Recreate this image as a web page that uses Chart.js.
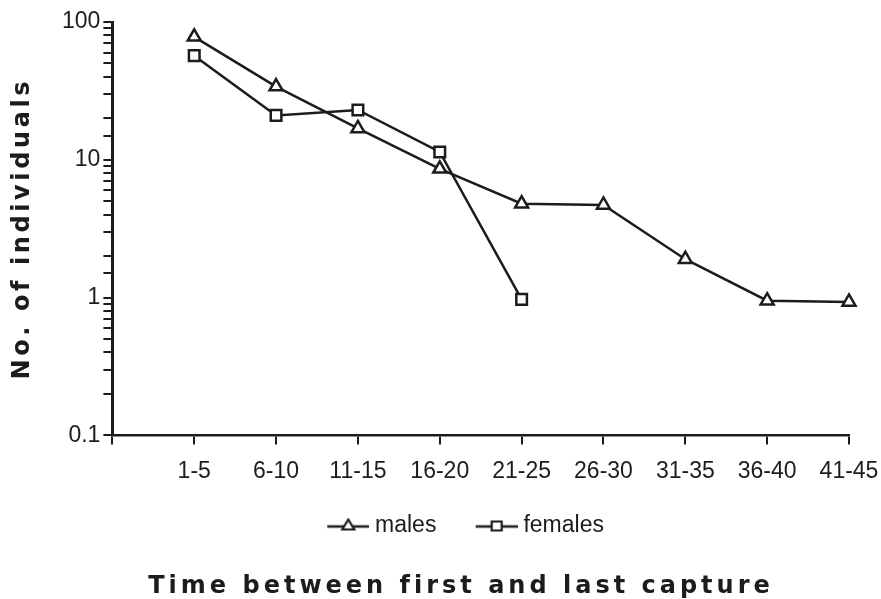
<!DOCTYPE html>
<html>
<head>
<meta charset="utf-8">
<script src="https://cdn.jsdelivr.net/npm/chart.js@4"></script>
<style>
  html, body { margin: 0; padding: 0; background: #fff; }
  #wrap { width: 881px; height: 599px; }
</style>
</head>
<body>
<div id="wrap"><canvas id="chart" width="881" height="599"></canvas></div>
<script>
// time classes (days between first and last capture)
const periods = ["1-5", "6-10", "11-15", "16-20", "21-25", "26-30", "31-35", "36-40", "41-45"];
// numbers
const males = [78, 34, 16.9, 8.6, 4.8, 4.7, 1.9, 0.95, 0.93];
const females = [57, 21, 23, 11.4, 0.97];
const yTicksShown = [0.1, 1, 10, 100];

const X_TITLE = "Time between first and last capture";
const Y_TITLE = "No. of individuals";
const INK = "#1c1c1c";
const TICK_FONT = { family: "'Liberation Sans Narrow', 'Liberation Sans', Arial, sans-serif", size: 23 };

// an empty slot in front so the first class sits one step off the y axis
const labels = [""].concat(periods);
const maleData = [null].concat(males);
const femaleData = [null].concat(females);

// legend icon: a short line with the marker on it; blank space on the left
// of the visible part gives the wider gap between the two legend entries
const ICON_W = 71, ICON_X = 29;
function legendIcon(kind) {
  const c = document.createElement("canvas");
  c.width = ICON_W; c.height = 16;
  const g = c.getContext("2d");
  g.strokeStyle = INK;
  g.lineWidth = 2.5;
  g.beginPath();
  g.moveTo(ICON_X, 9); g.lineTo(ICON_X + 42, 9);
  g.stroke();
  g.fillStyle = "#fff";
  g.lineWidth = 2.2;
  g.beginPath();
  const cx = ICON_X + 21;
  if (kind === "triangle") {
    g.moveTo(cx, 2); g.lineTo(cx + 6, 12); g.lineTo(cx - 6, 12); g.closePath();
  } else {
    g.rect(cx - 5, 4, 10, 9);
  }
  g.fill();
  g.stroke();
  return c;
}

const axisTitles = {
  id: "axisTitles",
  afterDraw(chart) {
    const ctx = chart.ctx;
    const area = chart.chartArea;
    ctx.save();
    ctx.fillStyle = INK;
    ctx.font = "bold 24px 'DejaVu Sans', sans-serif";
    ctx.textAlign = "center";
    ctx.textBaseline = "middle";

    ctx.save();
    ctx.letterSpacing = "3.6px";
    ctx.translate(23, (area.top + area.bottom) / 2);
    ctx.rotate(-Math.PI / 2);
    ctx.fillText(Y_TITLE, 0, 0);
    ctx.restore();

    ctx.letterSpacing = "4px";
    ctx.fillText(X_TITLE, 461, chart.height - 12);
    ctx.restore();
  }
};

new Chart(document.getElementById("chart"), {
  type: "line",
  data: {
    labels: labels,
    datasets: [
      {
        label: "males",
        data: maleData,
        borderColor: INK,
        borderWidth: 2.5,
        pointStyle: "triangle",
        pointRadius: 7.5,
        pointBorderWidth: 2.5,
        pointBackgroundColor: "#fff",
        pointBorderColor: INK,
        tension: 0
      },
      {
        label: "females",
        data: femaleData,
        borderColor: INK,
        borderWidth: 2.5,
        pointStyle: "rect",
        pointRadius: 7.5,
        pointBorderWidth: 2.5,
        pointBackgroundColor: "#fff",
        pointBorderColor: INK,
        tension: 0
      }
    ]
  },
  options: {
    responsive: false,
    animation: false,
    layout: { padding: { left: 59, right: 32, top: 22, bottom: 52 } },
    scales: {
      x: {
        type: "category",
        offset: false,
        border: { color: INK, width: 2.5 },
        grid: { drawOnChartArea: false, drawTicks: true, tickLength: 9, color: INK, lineWidth: 2 },
        ticks: { color: INK, font: TICK_FONT, padding: 13, autoSkip: false, maxRotation: 0 },
        // the last label may run into the right margin, as in the original
        afterFit: function (scale) { scale.paddingRight = 0; }
      },
      y: {
        type: "logarithmic",
        min: 0.1,
        max: 100,
        border: { color: INK, width: 3 },
        grid: { drawOnChartArea: false, drawTicks: true, tickLength: 9, color: INK, lineWidth: 2 },
        ticks: {
          color: INK,
          font: TICK_FONT,
          padding: 3,
          autoSkip: false,
          callback: function (v) {
            return yTicksShown.some(t => Math.abs(t - v) < 1e-9) ? String(v) : "";
          }
        }
      }
    },
    plugins: {
      legend: {
        position: "bottom",
        fullSize: true,
        labels: {
          color: INK,
          font: TICK_FONT,
          usePointStyle: true,
          pointStyleWidth: 59.5,
          padding: 16,
          generateLabels: function (chart) {
            const items = Chart.defaults.plugins.legend.labels.generateLabels(chart);
            items.forEach(it => {
              it.pointStyle = legendIcon(it.datasetIndex === 0 ? "triangle" : "rect");
            });
            return items;
          }
        }
      },
      tooltip: { enabled: false }
    }
  },
  plugins: [axisTitles]
});
</script>
</body>
</html>
